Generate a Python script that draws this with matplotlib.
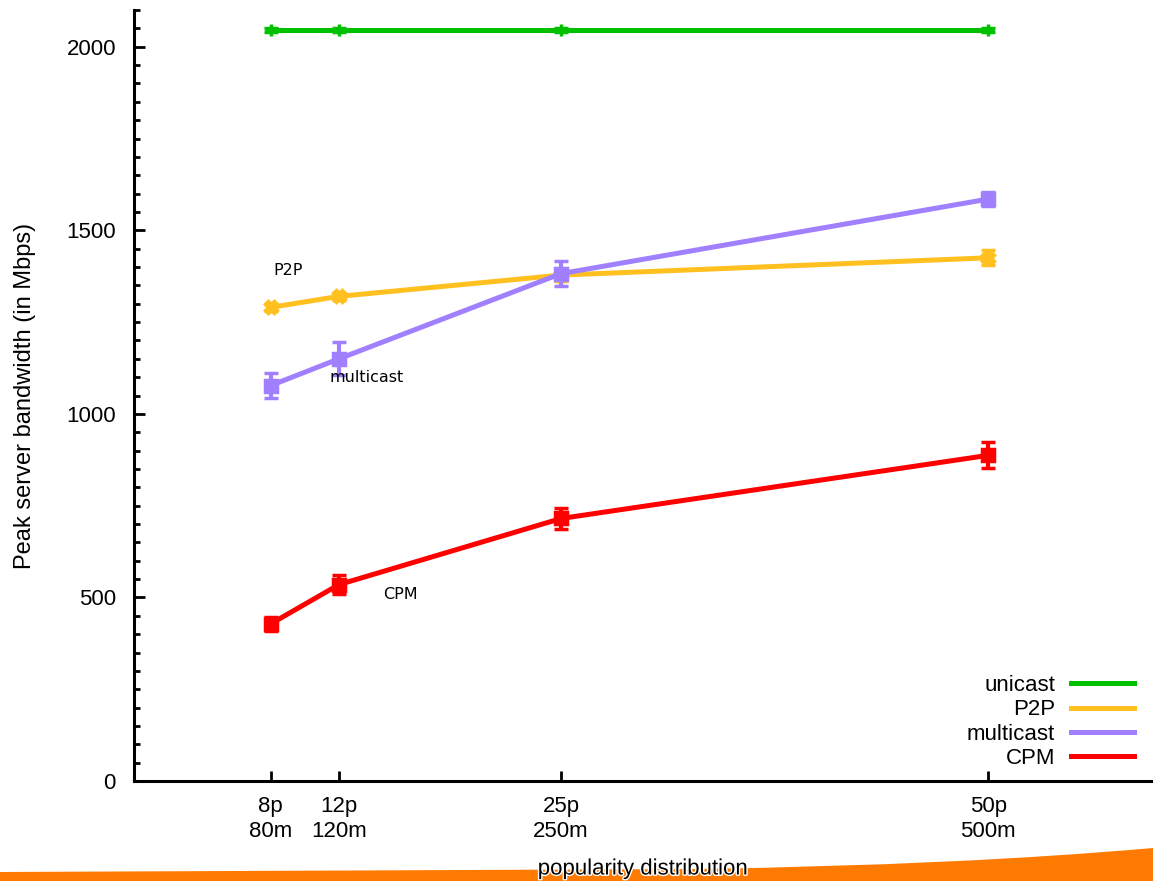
import matplotlib
matplotlib.use("Agg")
import matplotlib.pyplot as plt
from matplotlib.lines import Line2D
from matplotlib.path import Path
from matplotlib.patches import PathPatch
import matplotlib.patheffects as pe
from matplotlib.ticker import MultipleLocator

# ---- data ----
x_pos = [8, 12, 25, 50]
x_labels = ["8p\n80m", "12p\n120m", "25p\n250m", "50p\n500m"]

unicast = [2045, 2045, 2045, 2045]
unicast_err = [5, 5, 5, 5]
p2p = [1290, 1320, 1378, 1425]
p2p_err = [10, 10, 15, 20]
multicast = [1077, 1150, 1382, 1585]
multicast_err = [35, 45, 35, 20]
cpm = [428, 535, 715, 887]
cpm_err = [20, 25, 28, 35]

series_names = ["unicast", "P2P", "multicast", "CPM"]
colors = ["#00C000", "#FFC020", "#A080FF", "#FF0000"]

W, H = 1153, 881
fig = plt.figure(figsize=(W / 100, H / 100), dpi=100)
plt.rcParams['font.family'] = ['Liberation Sans', 'DejaVu Sans']

ax = fig.add_axes([134 / W, (H - 781) / H, (1159 - 134) / W, (781 - 10) / H])

lw = 3.6
series = [(unicast, unicast_err, '+'), (p2p, p2p_err, 'X'),
          (multicast, multicast_err, 's'), (cpm, cpm_err, 's')]
for (vals, errs, mk), c in zip(series, colors):
    ax.errorbar(x_pos, vals, yerr=errs, color=c, lw=lw, marker=mk,
                markersize=9, mew=2.5, elinewidth=3, capsize=5, capthick=3,
                zorder=3)

ax.set_xlim(0, 60)
ax.set_ylim(0, 2100)
ax.set_xticks(x_pos)
ax.set_xticklabels(x_labels, fontsize=16, linespacing=1.25)
ax.yaxis.set_major_locator(MultipleLocator(500))
ax.yaxis.set_minor_locator(MultipleLocator(50))
ax.tick_params(axis='y', which='major', direction='in', length=8, width=2,
               labelsize=16, pad=13)
ax.tick_params(axis='y', which='minor', direction='in', length=4, width=2)
ax.tick_params(axis='x', which='major', direction='in', length=7, width=2,
               labelsize=16, pad=11)
for s in ['top', 'right']:
    ax.spines[s].set_visible(False)
for s in ['left', 'bottom']:
    ax.spines[s].set_linewidth(2.2)

ax.set_ylabel("Peak server bandwidth (in Mbps)", fontsize=17, labelpad=22)

# inline labels
ann_font = dict(fontsize=11.5, family='DejaVu Sans', ha='center', va='center')
ax.text(9.0, 1390, "P2P", **ann_font)
ax.text(13.6, 1098, "multicast", **ann_font)
ax.text(15.6, 509, "CPM", **ann_font)

# legend
handles = [Line2D([0], [0], color=c, lw=lw) for c in colors]
fig.legend(handles, series_names, loc='lower right',
           bbox_to_anchor=(1134 / W, (H - 769) / H),
           frameon=False, markerfirst=False, fontsize=16,
           handlelength=2.85, handletextpad=0.7, labelspacing=0.15,
           borderpad=0, borderaxespad=0)

# orange swoosh decoration
verts = [(0, 872), (700, 869), (960, 865), (1153, 848), (1153, 881), (0, 881), (0, 872)]
codes = [Path.MOVETO, Path.LINETO, Path.CURVE3, Path.CURVE3, Path.LINETO,
         Path.LINETO, Path.CLOSEPOLY]
verts_fig = [(vx / W, (H - vy) / H) for vx, vy in verts]
fig.patches.append(PathPatch(Path(verts_fig, codes), transform=fig.transFigure,
                             facecolor="#FF7A00", edgecolor='none', zorder=1))

fig.text(643 / W, (H - 869) / H, "popularity distribution", fontsize=16,
         ha='center', va='center', zorder=5,
         path_effects=[pe.withStroke(linewidth=2, foreground='white')])

fig.savefig("out.png", dpi=100)
